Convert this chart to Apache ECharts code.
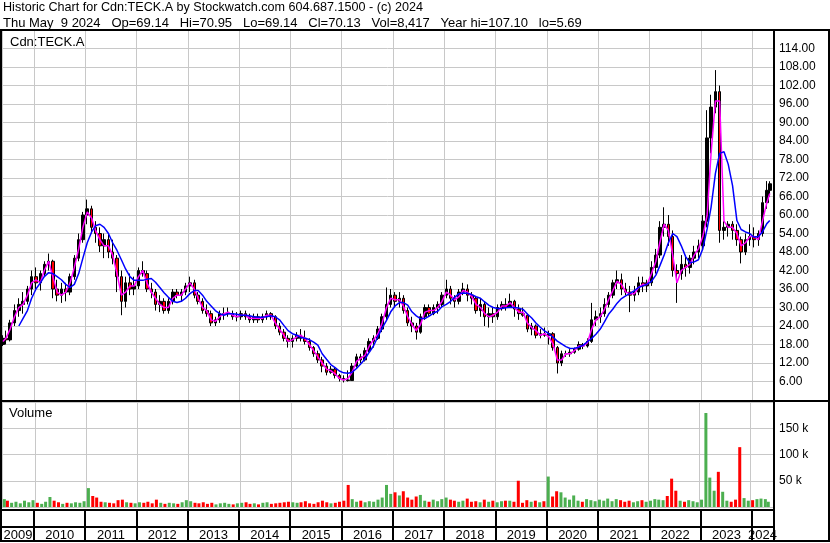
<!DOCTYPE html>
<html><head><meta charset="utf-8">
<script src="https://cdn.jsdelivr.net/npm/echarts@6/dist/echarts.min.js"></script>
<style>html,body{margin:0;padding:0;background:#fff}#c{width:830px;height:543px}</style>
</head><body><div id="c"></div>
<script>
// Monthly data, May 2009 .. May 2024 (181 months)
const open = [
18,20,19.5,25,29,31,32,36,
40,38,41,44,45,36,34,36,35,40,46,52,
60,62,56,54,50,52,48,46,40,32,38,36,
37,42,41,36,35,31,32,29,32,35,34,35,
37,38,34,32,29,28,25,26,28,28,28,27,
27,28,27,26,27,26,27,28,27,24,22,20,
19,20,21,20,19,17,15,13,11,9,10,8,
7,6.5,6.3,11,14,13,16,19,20,23,27,31,
34,32,33,29,25,24,22,27,30,28,30,31,
34,36,33,32,35,36,34,33,29,31,27,28,
27,30,31,30,32,29.5,28,27.5,23,24,21,21.5,
21,21.5,17,12,15,15,15.5,16.5,18,17.5,19,26,
27,28,31,34,38,39,36,35,34,35,38,37,
38,43,47,56,57,53,42,41,44,43,46,48,
50,58,85,95,100,55,56,57,55,52,48,52,
53,52,54,64,68];
const high = [
21,22.5,26,31,33,35,37,42,
43,42,45,47.5,45.5,39,38,38,41,47,54,61,
65,63,58,56,54,54,52,47,42,40,41,40,
43,45,42,38,36,34,33,33,36,36,36,38,
40,39,35,33,31,29,27,29,30,30,29,28.5,
29,29,28,28,28,28,29,28.5,27.5,25,23,21,
21,22,23,22.5,20,17.5,16,14,12,11,10.5,8.5,
8,9.6,12,15,15,17,20,21,24,28,36.5,36,
35,35,34,30,27,25,28,31,31,31,32,35,
39,37,34,36,38,37.5,35,33.5,33,32,30,30,
31,32,33,34.5,32.5,31,30,28,25,24.5,23,23.5,
22.5,22,17.5,16,16,16.5,17,19,18.5,20,31.5,29,
30,33,35,39,42,41,38,37,37,40,40,39,
45,49,58,62.5,60,55,44,47,47,47,50,52,
60,94,99,107,102,58,58,58,57,53,54,57,
56,55,66,71,70.95];
const low = [
17.5,18,19,24,27,28,31,34,
36,35.5,40,42,33,32,31.5,32,34,39,45,51,
57,54,51,48,46,46,44,35,27.5,30,34,34,
36,40,35,33,29,28.5,28,28,31,33,32,34,
35,33,31,28,27,24,24,25,26,27,26,25.5,
26,26,25,25,25,25,26,26,23,21,19,17,
17,19,19,18,16,14,12,9,8,8.5,7,6,
5.7,6,6.2,10.5,12,12.5,15.5,17,19.5,22,26,30,
30,30,28,24,22,19.6,21.5,26,27,27.5,28,30,
33,31,30,31,34,32,31,28,27,24,23.5,25,
26,29,29,30,27,26,27,22,21,20,20,20.5,
18,16,8.6,11,14,14,15,16,16.5,17,18.5,24,
25,27,30,33,36,34,34,28.5,32,34,35,35,
37,41,46,53,50,40,31.5,39,40,41,44,46,
49,56,80,93,51,52,53,52,50,44.3,47,50,
49.5,50,53,62,66];
const close = [
20,19.5,25,29,31,32,36,40,
38,41,44,45,36,34,36,35,40,46,52,60,
62,56,54,50,52,48,46,40,32,38,36,37,
42,41,36,35,31,32,29,32,35,34,35,37,
38,34,32,29,28,25,26,28,28,28,27,27,
28,27,26,27,26,27,28,27,24,22,20,19,
20,21,20,19,17,15,13,11,9,10,8,7,
6.5,6.3,11,14,13,16,19,20,23,27,31,34,
32,33,29,25,24,22,27,30,28,30,31,34,
36,33,32,35,36,34,33,29,31,27,28,27,
30,31,30,32,29.5,28,27.5,23,24,21,21.5,21,
21.5,17,12,15,15,15.5,16.5,18,17.5,19,26,27,
28,31,34,38,39,36,35,34,35,38,37,38,
43,47,56,57,53,42,41,44,43,46,48,50,
58,85,95,100,55,56,57,55,52,48,52,53,
52,54,64,68,70.13];
const pinkMA = [
19,20,23,27,30,31,34,38,
39,38,42,45,40,35,34,35,38,43,49,56,
61,59,55,52,50,50,47,41,34,35,37,37,
40,42,38,35,33,31,30,30,33,34,34,36,
38,36,33,30,29,26,25.5,27,28,28.5,27.5,27,
27.5,27.5,26.5,26.5,26.5,26.5,27.5,27.5,25,23,21,19,
19.5,20.5,21,20,18,16,14,12,10,9.5,8.5,7,
6.5,7,9,12.5,13.5,14.5,17.5,19.5,21.5,25,30,33,
32.5,32.5,30.5,27,24.5,22.5,24.5,28.5,29,29,30,32,
35,34,32.5,33.5,35.5,35,33.5,31,30,28,27,27.5,
28.5,30.5,30.5,31.5,30,28.5,28.5,25,23.5,22.5,21,21.5,
20.5,18,13,13,15,15,16,17.5,17.5,18.5,23,26,
27,29.5,32.5,35.5,38.5,37.5,35,34.5,34.5,36.5,37.5,37.5,
41,45,51,57,55,47,38,42,43,44,47,49,
53,60,80,97,97,58,56,56,54,50,51,53,
53,52,58,64,67];
const blueMA = [
null,null,null,null,24,26.5,29,33,
36,38,40,41.3,41,40,39,37.5,36.5,37.5,41,46,
51,54.5,56.5,57,56,54,51,48.5,45.5,42.5,40,38.8,
38.8,38.8,39.2,39.4,38.2,36.5,34.8,33.3,32,31.6,32,33,
34.5,35.5,35.5,34,32,30.5,29,28,27.5,28,28,27.8,
27.5,27.5,27.3,27,26.8,26.8,27,27.3,27,26,24.2,22.5,
21.5,21,20.3,20,19.6,18.8,17.8,15,13.2,11.5,10.5,9.4,
8.8,8.7,9,10.2,11.7,13.3,15.5,17.6,20.6,23.3,25.8,28.6,
30.5,31.6,31.6,30.8,28.6,27.3,26.4,26.4,27.2,28.2,28.8,30.3,
31,32,33.3,34.5,34.7,34.6,34.2,33.5,33,31.8,30.7,30,
29.7,29.7,29.9,30.1,30,29.8,29.4,27.9,26.6,25,23.6,22.4,
21.5,20.3,19.1,18.2,17.3,16.7,16.8,17.1,17.8,18.9,20,21.3,
23,25.4,27.8,29.5,31.4,32.9,33.8,34.6,35.5,36.5,37,37.6,
38.5,40.5,43.5,47,51,54,53,50,46.5,44.5,44.8,45.5,
49,55.5,62.5,73.5,80,80.5,76.5,69.5,58.2,55.3,54.5,54,
52.8,53,54.5,57.2,58.2];
const volumeK = [
15,12,8,10,7,12,9,13,
8,6,10,19,12,9,6,8,7,9,8,11,
36,21,18,10,9,8,7,13,14,9,8,7,
9,8,10,7,14,8,6,8,7,6,9,13,
11,8,7,9,6,8,5,7,8,6,5,7,
8,9,6,7,5,8,9,6,7,8,9,10,
9,8,9,11,7,6,9,12,9,7,8,10,
12,42,15,10,12,9,11,10,14,18,42,25,
28,22,30,18,14,20,23,12,10,14,11,15,
18,14,12,10,12,16,10,11,9,14,10,12,
9,11,12,12,10,50,8,13,10,12,9,11,
58,20,30,28,18,14,22,12,10,15,13,11,
14,12,16,11,15,13,10,12,9,11,13,10,
12,15,14,13,21,54,31,12,10,13,11,9,
14,179,56,31,67,29,12,10,14,114,17,12,
13,15,16,15,10];
const years = [2009,2010,2011,2012,2013,2014,2015,2016,2017,2018,2019,2020,2021,2022,2023,2024];
const titleLine1 = 'Historic Chart for Cdn:TECK.A by Stockwatch.com 604.687.1500 - (c) 2024';
const titleLine2 = 'Thu May  9 2024   Op=69.14   Hi=70.95   Lo=69.14   Cl=70.13   Vol=8,417   Year hi=107.10   lo=5.69';
const symbolLabel = 'Cdn:TECK.A';
const volumeLabel = 'Volume';

const FONT = '"Liberation Sans", Arial, sans-serif';
const GREEN = '#4caf50', RED = '#ff0000', GRID = '#c8c8c8';
const xMin = new Date(2009,4,18).getTime(), xMax = new Date(2024,4,29).getTime();
const months = close.map((_, i) => { const mi = 4 + i; return new Date(2009 + Math.floor(mi/12), mi % 12, 15).getTime(); });
months[0] = new Date(2009,4,24).getTime();
months[months.length-1] = new Date(2024,4,6).getTime();

const candleData = months.map((t,i)=>[t, open[i], close[i], low[i], high[i]]);
const pinkData = months.map((t,i)=>[t, pinkMA[i]]);
const blueData = months.map((t,i)=>[t, blueMA[i]]).filter(d=>d[1]!=null);
const volData = months.map((t,i)=>({value:[t, volumeK[i]*1000], itemStyle:{color: close[i]>=open[i] ? GREEN : RED}}));
const bandData = years.map(y=>[Math.max(new Date(y,0,1).getTime(), xMin), 0.5, y]);

function xAxisFor(gi){
  return {type:'time', gridIndex:gi, min:xMin, max:xMax, splitNumber:15,
    minInterval:365*864e5, maxInterval:366*864e5,
    axisLine:{show:false}, axisTick:{show:false}, axisLabel:{show:false},
    splitLine:{show: gi<2, lineStyle:{color:GRID, width:1}}};
}
const chart = echarts.init(document.getElementById('c'), null, {renderer:'canvas'});
const rect = (x,y,w,h)=>({type:'rect', shape:{x,y,width:w,height:h}, style:{fill:'#000'}, z:100});
chart.setOption({
  animation:false,
  backgroundColor:'#fff',
  grid:[
    {left:2, right:57, top:30, height:370},
    {left:2, right:57, top:402, height:105},
    {left:2, right:57, top:511, height:30}
  ],
  xAxis:[xAxisFor(0), xAxisFor(1), xAxisFor(2)],
  yAxis:[
    {type:'value', gridIndex:0, position:'right', min:0, max:120, interval:6,
     axisLine:{show:false}, axisTick:{show:false},
     splitLine:{lineStyle:{color:GRID, width:1}},
     axisLabel:{margin:6, color:'#000', fontSize:12, fontFamily:FONT,
       formatter:v=>(v>0 && v<120) ? v.toFixed(2) : ''}},
    {type:'value', gridIndex:1, position:'right', min:0, max:200000, interval:50000,
     axisLine:{show:false}, axisTick:{show:false},
     splitLine:{lineStyle:{color:GRID, width:1}},
     axisLabel:{margin:6, color:'#000', fontSize:12, fontFamily:FONT,
       formatter:v=>(v>0 && v<200000) ? (v/1000)+' k' : ''}},
    {type:'value', gridIndex:2, min:0, max:1, show:false}
  ],
  series:[
    {type:'candlestick', xAxisIndex:0, yAxisIndex:0, data:candleData, encode:{x:0, y:[1,2,3,4]},
     barWidth:3, z:3,
     itemStyle:{color:'#000', color0:RED, borderColor:'#000', borderColor0:'#000', borderWidth:1}},
    {type:'line', xAxisIndex:0, yAxisIndex:0, data:pinkData, showSymbol:false, z:4,
     lineStyle:{color:'#ff00ff', width:1.5}},
    {type:'line', xAxisIndex:0, yAxisIndex:0, data:blueData, showSymbol:false, z:5,
     lineStyle:{color:'#0000ff', width:1.5}},
    {type:'bar', xAxisIndex:1, yAxisIndex:1, data:volData, barWidth:3, z:3},
    {type:'custom', xAxisIndex:2, yAxisIndex:2, data:bandData, encode:{x:0, y:1}, clip:false,
     renderItem:(params, api)=>{
       const y = api.value(2);
       const s = new Date(y,0,1).getTime(), e = new Date(y+1,0,1).getTime();
       const a = api.coord([Math.max(s,xMin), 0]), b = api.coord([Math.min(e,xMax), 1]);
       const children = [];
       if (s > xMin) children.push({type:'rect', shape:{x:Math.round(a[0])-1, y:b[1], width:2, height:a[1]-b[1]}, style:{fill:'#000'}});
       children.push({type:'text', style:{x:(a[0]+b[0])/2, y:a[1]-6, text:String(y), align:'center', verticalAlign:'middle', font:'13px '+FONT, fill:'#000'}});
       return {type:'group', children};
     }}
  ],
  graphic:[
    {type:'text', style:{x:3, y:8, text:titleLine1, font:'12.6px '+FONT, fill:'#000', verticalAlign:'middle'}, z:100},
    {type:'text', style:{x:3, y:23, text:titleLine2, font:'13px '+FONT, fill:'#000', verticalAlign:'middle'}, z:100},
    {type:'text', style:{x:10, y:42, text:symbolLabel, font:'13px '+FONT, fill:'#000', verticalAlign:'middle'}, z:100},
    {type:'text', style:{x:9, y:413, text:volumeLabel, font:'13px '+FONT, fill:'#000', verticalAlign:'middle'}, z:100},
    rect(0,29,830,2),
    rect(0,29,2,513),
    rect(828,29,2,513),
    rect(773,29,2,513),
    rect(0,400,830,2),
    rect(0,509,775,2),
    rect(0,526,775,2),
    rect(0,540,830,2)
  ]
});
</script></body></html>
